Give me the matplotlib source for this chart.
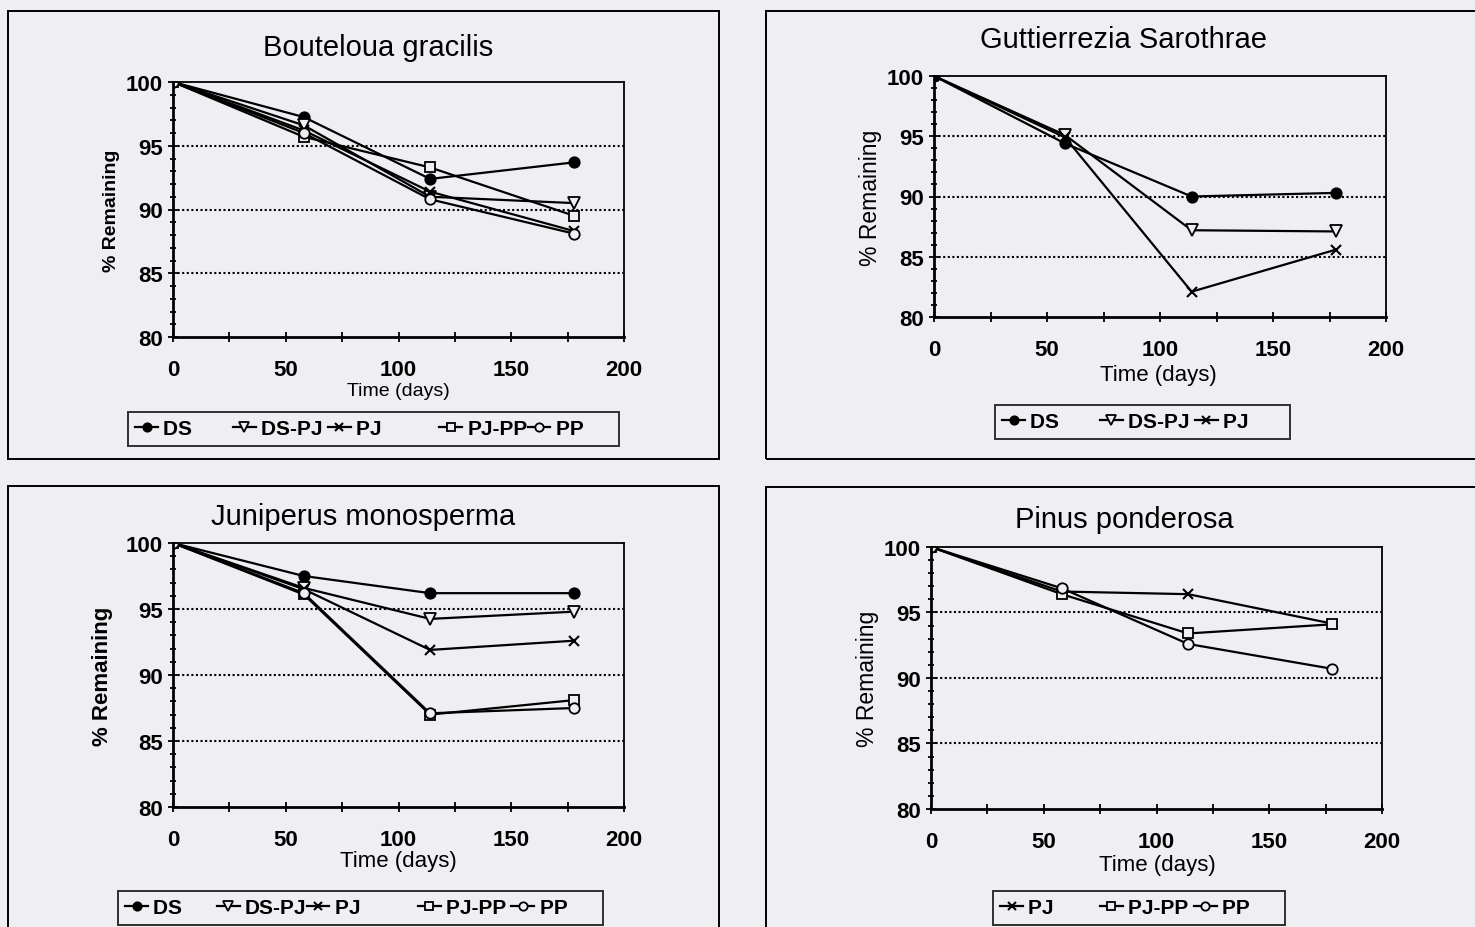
import matplotlib.pyplot as plt
from matplotlib.patches import Rectangle
from matplotlib.ticker import MultipleLocator

plt.rcParams['font.family'] = ['Liberation Sans', 'DejaVu Sans']

W, H = 1475, 928
BG = '#efeff3'

# sampling days
days = [0, 58, 114, 178]

# Bouteloua gracilis
bg_DS = [100, 97.25, 92.4, 93.7]
bg_DSPJ = [100, 96.6, 91.0, 90.5]
bg_PJ = [100, 96.2, 91.4, 88.3]
bg_PJPP = [100, 95.7, 93.3, 89.5]
bg_PP = [100, 96.0, 90.8, 88.1]

# Guttierrezia sarothrae
gs_DS = [100, 94.4, 90.0, 90.3]
gs_DSPJ = [100, 95.1, 87.2, 87.1]
gs_PJ = [100, 94.9, 82.1, 85.6]

# Juniperus monosperma
jm_DS = [100, 97.5, 96.2, 96.2]
jm_DSPJ = [100, 96.6, 94.25, 94.8]
jm_PJ = [100, 96.5, 91.9, 92.6]
jm_PJPP = [100, 96.1, 87.0, 88.1]
jm_PP = [100, 96.2, 87.1, 87.5]

# Pinus ponderosa
pp_PJ = [100, 96.6, 96.4, 94.15]
pp_PJPP = [100, 96.4, 93.4, 94.1]
pp_PP = [100, 96.85, 92.6, 90.7]

styles = {
    'DS': dict(marker='o', mfc='black', ms=7.5, mew=1.3),
    'DS-PJ': dict(marker='v', mfc=BG, ms=8.5, mew=1.3),
    'PJ': dict(marker='x', mfc='black', ms=7.5, mew=1.5),
    'PJ-PP': dict(marker='s', mfc=BG, ms=7.5, mew=1.3),
    'PP': dict(marker='o', mfc=BG, ms=7.5, mew=1.3),
}


def fbox(x0, y0, x1, y1):
    # pixel box -> figure fraction [left, bottom, width, height]
    return [x0 / W, 1 - y1 / H, (x1 - x0) / W, (y1 - y0) / H]


def panel(fig, box, outer, title, tpos, xlpos, xlsize, ylsize, ylbold, ylpad,
          series, legpos, labels):
    fig.patches.append(Rectangle((outer[0] / W, 1 - outer[3] / H),
                                 (outer[2] - outer[0]) / W, (outer[3] - outer[1]) / H,
                                 transform=fig.transFigure, fill=False,
                                 edgecolor='black', linewidth=1.4))
    ax = fig.add_axes(fbox(*box))
    ax.set_facecolor(BG)
    handles = []
    for name, vals in series:
        ln, = ax.plot(days, vals, color='black', lw=1.6, mec='black', **styles[name])
        handles.append(ln)
    ax.set_xlim(0, 200)
    ax.set_ylim(80, 100)
    ax.xaxis.set_major_locator(MultipleLocator(50))
    ax.xaxis.set_minor_locator(MultipleLocator(25))
    ax.yaxis.set_major_locator(MultipleLocator(5))
    ax.yaxis.set_minor_locator(MultipleLocator(1))
    ax.tick_params(axis='x', which='both', direction='inout', length=7, width=1.3,
                   labelsize=16, pad=12)
    ax.tick_params(axis='y', which='major', direction='inout', length=7, width=1.3,
                   labelsize=16, pad=4)
    ax.tick_params(axis='y', which='minor', direction='inout', length=5, width=1.3)
    for lab in ax.get_xticklabels() + ax.get_yticklabels():
        lab.set_fontweight('bold')
    for y in [85, 90, 95]:
        ax.axhline(y, color='black', lw=1.5, ls=(0, (1, 1.2)), zorder=0)
    for s in ['left', 'bottom']:
        ax.spines[s].set_linewidth(2.0)
    for s in ['top', 'right']:
        ax.spines[s].set_linewidth(1.3)
    ax.set_ylabel('% Remaining', fontsize=ylsize,
                  fontweight='bold' if ylbold else 'normal', labelpad=ylpad)
    fig.text(tpos[0] / W, 1 - tpos[1] / H, title, fontsize=21, ha='center', va='center')
    fig.text(xlpos[0] / W, 1 - xlpos[1] / H, 'Time (days)', fontsize=xlsize,
             ha='center', va='center')
    leg = fig.legend(handles, labels, loc='upper left', ncol=len(labels),
                     bbox_to_anchor=(legpos[0] / W, 1 - legpos[1] / H),
                     bbox_transform=fig.transFigure, frameon=True, fancybox=False,
                     handlelength=1.1, handletextpad=0.25, columnspacing=0.0,
                     borderpad=0.35, borderaxespad=0, markerscale=0.8,
                     prop=dict(size=15, weight='bold'))
    leg.get_frame().set_edgecolor('black')
    leg.get_frame().set_linewidth(1.4)
    leg.get_frame().set_facecolor(BG)
    return ax


fig = plt.figure(figsize=(W / 100, H / 100), dpi=100)
fig.patch.set_facecolor(BG)

panel(fig, (173, 83, 624, 338), (8, 12, 719, 460), 'Bouteloua gracilis', (378, 48),
      (398, 392), 14, 14, True, 4,
      [('DS', bg_DS), ('DS-PJ', bg_DSPJ), ('PJ', bg_PJ), ('PJ-PP', bg_PJPP), ('PP', bg_PP)],
      (128, 413), ['DS       ', 'DS-PJ ', 'PJ          ', 'PJ-PP', 'PP     '])

panel(fig, (934, 77, 1386, 318), (766, 12, 1485, 460), 'Guttierrezia Sarothrae', (1123, 40),
      (1158, 376), 16, 16.5, False, 3,
      [('DS', gs_DS), ('DS-PJ', gs_DSPJ), ('PJ', gs_PJ)],
      (995, 406), ['DS       ', 'DS-PJ ', 'PJ      '])

panel(fig, (173, 544, 624, 808), (8, 487, 719, 940), 'Juniperus monosperma', (363, 517),
      (398, 862), 16, 16, True, 9,
      [('DS', jm_DS), ('DS-PJ', jm_DSPJ), ('PJ', jm_PJ), ('PJ-PP', jm_PJPP), ('PP', jm_PP)],
      (118, 892), ['DS      ', 'DS-PJ', 'PJ          ', 'PJ-PP ', 'PP     '])

panel(fig, (931, 548, 1382, 810), (766, 488, 1485, 940), 'Pinus ponderosa', (1124, 520),
      (1157, 866), 16, 16.5, False, 3,
      [('PJ', pp_PJ), ('PJ-PP', pp_PJPP), ('PP', pp_PP)],
      (993, 892), ['PJ        ', 'PJ-PP ', 'PP     '])

fig.savefig('out.png', dpi=100, facecolor=BG)
